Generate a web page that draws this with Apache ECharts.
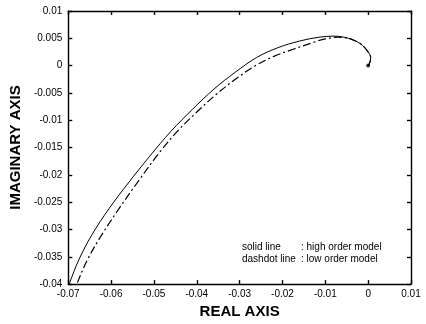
<!DOCTYPE html>
<html><head><meta charset="utf-8">
<script src="https://cdn.jsdelivr.net/npm/echarts@6/dist/echarts.min.js"></script>
<style>html,body{margin:0;padding:0;background:#fff}#c{width:426px;height:324px}</style>
</head><body><div id="c"></div>
<script>
// Nyquist-like plot data [real, imaginary]
const highOrder = [[-0.0710,-0.0425],[-0.0698,-0.0400],[-0.0675,-0.0355],[-0.0645,-0.0310],[-0.0605,-0.0262],[-0.0560,-0.0215],[-0.0510,-0.0166],[-0.0460,-0.0120],[-0.0410,-0.0080],[-0.0360,-0.0043],[-0.0310,-0.0012],[-0.0260,0.0015],[-0.0210,0.0033],[-0.0160,0.0045],[-0.0115,0.0052],[-0.0080,0.0054],[-0.0046,0.0050],[-0.0018,0.0040],[-0.0002,0.0027],[0.0006,0.0014],[0.0003,0.0004],[0.0000,0.0000]];
const lowOrder = [[-0.0691,-0.0425],[-0.0680,-0.0400],[-0.0655,-0.0355],[-0.0622,-0.0310],[-0.0580,-0.0260],[-0.0535,-0.0210],[-0.0490,-0.0162],[-0.0445,-0.0120],[-0.0400,-0.0085],[-0.0355,-0.0053],[-0.0310,-0.0025],[-0.0265,-0.0001],[-0.0220,0.0017],[-0.0175,0.0030],[-0.0130,0.0042],[-0.0100,0.0049],[-0.0070,0.0052],[-0.0046,0.0050],[-0.0018,0.0040],[-0.0002,0.0027],[0.0006,0.0014],[0.0003,0.0004],[0.0000,0.0000]];
const endPoint = [[0, 0]];
const xTitle = 'REAL AXIS';
const yTitle = 'IMAGINARY AXIS';
const legendLines = [['solid line', ': high order model'], ['dashdot line', ': low order model']];

const fmt = v => String(+(+v).toFixed(3));
const tickFont = {fontFamily:'Liberation Sans, Arial, sans-serif', fontSize:10, color:'#000'};
const chart = echarts.init(document.getElementById('c'), null, {renderer:'canvas'});
const lineC = {color:'#000', width:1.4};
chart.setOption({
  animation:false,
  backgroundColor:'#fff',
  grid:{left:60, right:15, top:11, bottom:36, containLabel:false},
  xAxis:[
    {type:'value', min:-0.07, max:0.01, interval:0.01, position:'bottom',
     axisLine:{onZero:false, lineStyle:lineC}, axisTick:{inside:true, length:4, lineStyle:lineC},
     splitLine:{show:false}, axisLabel:Object.assign({margin:5, formatter:fmt}, tickFont),
     name:xTitle, nameLocation:'middle', nameGap:18,
     nameTextStyle:{fontFamily:'Liberation Sans Narrow, Liberation Sans, Arial', fontSize:15, fontWeight:'bold', color:'#000'}},
    {type:'value', min:-0.07, max:0.01, interval:0.01, position:'top',
     axisLine:{onZero:false, lineStyle:lineC}, axisTick:{inside:true, length:4, lineStyle:lineC},
     splitLine:{show:false}, axisLabel:{show:false}}
  ],
  yAxis:[
    {type:'value', min:-0.04, max:0.01, interval:0.005, position:'left',
     axisLine:{onZero:false, lineStyle:lineC}, axisTick:{inside:true, length:4, lineStyle:lineC},
     splitLine:{show:false}, axisLabel:Object.assign({margin:6, formatter:fmt}, tickFont),
     name:yTitle, nameLocation:'middle', nameGap:40,
     nameTextStyle:{fontFamily:'Liberation Sans Narrow, Liberation Sans, Arial', fontSize:15, fontWeight:'bold', color:'#000'}},
    {type:'value', min:-0.04, max:0.01, interval:0.005, position:'right',
     axisLine:{onZero:false, lineStyle:lineC}, axisTick:{inside:true, length:4, lineStyle:lineC},
     splitLine:{show:false}, axisLabel:{show:false}}
  ],
  series:[
    {type:'line', name:'high order model', data:highOrder, smooth:0.35, showSymbol:false, clip:true,
     lineStyle:{color:'#000', width:1, type:'solid'}},
    {type:'line', name:'low order model', data:lowOrder, smooth:0.35, showSymbol:false, clip:true,
     lineStyle:{color:'#000', width:1.2, type:[8,3,2,3]}},
    {type:'scatter', data:endPoint, symbolSize:4, itemStyle:{color:'#000'}}
  ],
  graphic:[
    {type:'text', left:242, top:242, style:{text:legendLines[0][0], font:'10px Liberation Sans, Arial', fill:'#000'}},
    {type:'text', left:301, top:242, style:{text:legendLines[0][1], font:'10px Liberation Sans, Arial', fill:'#000'}},
    {type:'text', left:242, top:254, style:{text:legendLines[1][0], font:'10px Liberation Sans, Arial', fill:'#000'}},
    {type:'text', left:301, top:254, style:{text:legendLines[1][1], font:'10px Liberation Sans, Arial', fill:'#000'}}
  ]
});
</script></body></html>
